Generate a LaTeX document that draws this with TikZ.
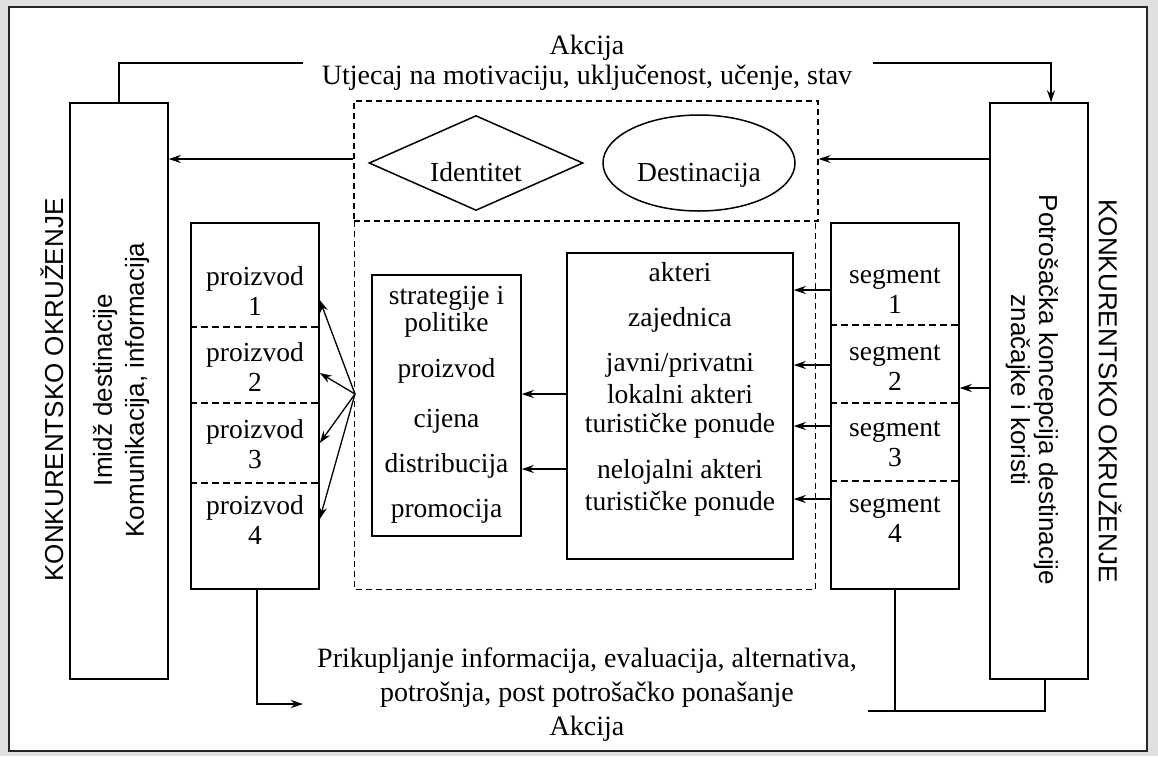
\documentclass[tikz,border=0pt]{standalone}
\usepackage{fontspec}
\setmainfont{Liberation Serif}
\newfontfamily\sansf{Liberation Sans}
\usetikzlibrary{arrows.meta,shapes.geometric}
\begin{document}
\begin{tikzpicture}[x=1pt,y=-1pt,
  box/.style={draw, line width=1.5pt, inner sep=0pt},
  conn/.style={line width=1.3pt},
  arr/.style={conn,-{Stealth[length=12pt,width=8pt]}},
  dshd/.style={line width=1.3pt, dash pattern=on 6pt off 4pt},
  divd/.style={line width=1.2pt, dash pattern=on 7pt off 4pt},
  txt/.style={font=\fontsize{27.5}{30}\selectfont, align=center, inner sep=0pt},
  stxt/.style={font=\sansf\fontsize{26}{32}\selectfont, align=center, inner sep=0pt},
]
\useasboundingbox (0,0) rectangle (1158,756);
\fill[black!12] (0,0) rectangle (1158,756);
\node[draw=black!85, line width=2pt, fill=white, minimum width=1138pt, minimum height=744pt, inner sep=0pt] (frame) at (578,379) {};

% side boxes
\node[box, minimum width=98pt, minimum height=576pt] (imbox) at (119,391) {};
\node[stxt, rotate=90] (imtxt) at (121,390) {Imidž destinacije\\Komunikacija, informacija};
\node[box, minimum width=98pt, minimum height=576pt] (rbox) at (1039,391) {};
\node[stxt, rotate=-90, font=\sansf\fontsize{26}{28}\selectfont] (rtxt) at (1032,390) {Potrošačka koncepcija destinacije\\značajke i koristi};
\node[stxt, rotate=90] (kl) at (52,390) {KONKURENTSKO OKRUŽENJE};
\node[stxt, rotate=-90] (kr) at (1110,391) {KONKURENTSKO OKRUŽENJE};

% top text
\node[txt, font=\fontsize{28}{30}\selectfont] (topt) at (587,63) {Akcija\\Utjecaj na motivaciju, uključenost, učenje, stav};

% dashed areas
\node[draw, dshd, inner sep=0pt, minimum width=464pt, minimum height=120pt] (upbox) at (586,161) {};
\node[inner sep=0pt, minimum width=461pt, minimum height=368pt] (lowbox) at (585,405) {};
\draw[dshd] (lowbox.north west) -- (lowbox.south west) -- (lowbox.south east) -- (lowbox.north east);

% identity / destination
\node[draw, line width=1.5pt, diamond, aspect=2.25, minimum width=214pt, minimum height=95pt, inner sep=0pt] (ident) at (476,163) {};
\node[txt] (identt) at (476,172) {Identitet};
\node[draw, line width=1.5pt, ellipse, minimum width=192pt, minimum height=96pt, inner sep=0pt] (dest) at (699,163) {};
\node[txt] (destt) at (699,175) {Destinacija};

% products
\node[box, minimum width=128pt, minimum height=366pt] (pbox) at (255,406) {};
\foreach \yy in {327,403,483} \draw[divd] (pbox.west |- 0,\yy) -- (pbox.east |- 0,\yy);
\node[txt] (p1) at (255,291) {proizvod\\1};
\node[txt] (p2) at (255,367) {proizvod\\2};
\node[txt] (p3) at (255,444) {proizvod\\3};
\node[txt] (p4) at (255,520) {proizvod\\4};
\coordinate (fan) at (355,394);
\foreach \yy in {300,373,443,519} \draw[arr] (fan) -- (pbox.east |- 0,\yy);

% strategies
\node[box, minimum width=149pt, minimum height=261pt] (sbox) at (446.5,405.5) {};
\node[txt, font=\fontsize{27.5}{27}\selectfont] (stx) at (446.5,404.5) {strategije i\\politike\\[19pt]proizvod\\[23pt]cijena\\[18pt]distribucija\\[18pt]promocija};

% actors
\node[box, minimum width=226pt, minimum height=306pt] (abox) at (680,406) {};
\node[txt] (atx) at (680,389.5) {akteri\\[15pt]zajednica\\[15pt]javni/privatni\\[2pt]lokalni akteri\\[-1pt]turističke ponude\\[16pt]nelojalni akteri\\[2pt]turističke ponude};
\foreach \yy in {394,469} \draw[arr] (abox.west |- 0,\yy) -- (sbox.east |- 0,\yy);

% segments
\node[box, minimum width=128pt, minimum height=366pt] (gbox) at (895,406) {};
\foreach \yy in {325,403,481} \draw[divd] (gbox.west |- 0,\yy) -- (gbox.east |- 0,\yy);
\node[txt] (g1) at (895,291) {segment\\1};
\node[txt] (g2) at (895,368) {segment\\2};
\node[txt] (g3) at (895,444) {segment\\3};
\node[txt] (g4) at (895,520) {segment\\4};
\foreach \yy in {290,365,426,499} \draw[arr] (gbox.west |- 0,\yy) -- (abox.east |- 0,\yy);
\draw[arr] (rbox.west |- 0,388) -- (gbox.east |- 0,388);

% top connectors
\coordinate (tl) at (303,63);
\draw[conn] (imbox.north) |- (tl);
\coordinate (tr) at (873,63);
\draw[arr] (tr) -| ([xshift=12pt]rbox.north);
\draw[arr] (upbox.west |- 0,159) -- (imbox.east |- 0,159);
\draw[arr] (rbox.west |- 0,159) -- (upbox.east |- 0,159);

% bottom
\node[txt, font=\fontsize{28}{34}\selectfont] (bt) at (587,695) {Prikupljanje informacija, evaluacija, alternativa,\\potrošnja, post potrošačko ponašanje\\Akcija};
\coordinate (bl) at (303,704);
\draw[arr] ([xshift=2pt]pbox.south) |- (bl);
\coordinate (br) at (868,711);
\draw[conn] ([xshift=6pt]rbox.south) |- (br);
\draw[conn] (gbox.south) -- (gbox.south |- br);
\end{tikzpicture}
\end{document}
